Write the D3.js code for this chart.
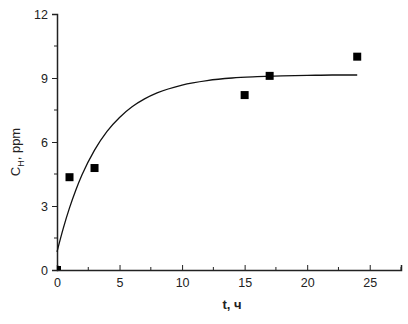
<!DOCTYPE html>
<html>
<head>
<meta charset="utf-8">
<script src="https://cdn.jsdelivr.net/npm/d3@7"></script>
<style>
  body { margin: 0; background: #fff; }
  svg { display: block; font-family: "Liberation Sans", Arial, sans-serif; }
</style>
</head>
<body>
<svg width="408" height="324"></svg>
<script>
// measured points
const timeH = [0, 1, 3, 15, 17, 24];
const concPpm = [0, 4.35, 4.78, 8.2, 9.1, 10];

// fitted curve
const fitT = [0, 0.5, 1, 1.5, 2, 3, 4, 5, 6, 7, 8, 10, 12, 14, 16, 18, 20, 22, 24];
const fitC = [0.85, 1.95, 2.91, 3.74, 4.46, 5.62, 6.5, 7.15, 7.65, 8.02, 8.3, 8.67, 8.88, 9.0, 9.06, 9.1, 9.12, 9.14, 9.14];

const xTicks = [0, 5, 10, 15, 20, 25];
const yTicks = [0, 3, 6, 9, 12];

const svg = d3.select("svg");

const x = d3.scaleLinear().domain([0, 27.5]).range([57, 401]);
const y = d3.scaleLinear().domain([0, 12]).range([270, 14]);

const axisColor = "#222";

// plot area clip (origin point is cut by the axes)
svg.append("clipPath").attr("id", "plot")
  .append("rect")
  .attr("x", x(0)).attr("y", 0)
  .attr("width", 408).attr("height", y(0));

// y axis
const yAxis = svg.append("g")
  .attr("transform", "translate(57,0)")
  .call(d3.axisLeft(y).tickValues(yTicks).tickSize(5).tickPadding(4).tickFormat(d3.format("d")));
// minor y ticks
svg.append("g")
  .selectAll("line")
  .data([1.5, 4.5, 7.5, 10.5])
  .join("line")
  .attr("x1", 54).attr("x2", 57)
  .attr("y1", d => y(d)).attr("y2", d => y(d))
  .attr("stroke", axisColor);

// x axis, ticks inward
const xAxis = svg.append("g")
  .attr("transform", "translate(0,270)")
  .call(d3.axisBottom(x).tickValues(xTicks).tickSize(-5).tickPadding(8).tickFormat(d3.format("d")));
svg.append("g")
  .selectAll("line")
  .data([2.5, 7.5, 12.5, 17.5, 22.5, 27.5])
  .join("line")
  .attr("x1", d => x(d)).attr("x2", d => x(d))
  .attr("y1", 267).attr("y2", 270)
  .attr("stroke", axisColor);

[yAxis, xAxis].forEach(g => {
  g.select(".domain").attr("stroke", axisColor).attr("stroke-width", 1.5);
  g.selectAll(".tick line").attr("stroke", axisColor);
  g.selectAll(".tick text")
    .attr("fill", "#222")
    .style("font-size", "12.5px");
});

// curve
const line = d3.line()
  .x(d => x(d[0]))
  .y(d => y(d[1]))
  .curve(d3.curveMonotoneX);

svg.append("path")
  .datum(fitT.map((t, i) => [t, fitC[i]]))
  .attr("d", line)
  .attr("fill", "none")
  .attr("stroke", "#111")
  .attr("stroke-width", 1.3);

// squares
const s = 8;
svg.append("g")
  .attr("clip-path", "url(#plot)")
  .selectAll("rect")
  .data(timeH.map((t, i) => [t, concPpm[i]]))
  .join("rect")
  .attr("x", d => x(d[0]) - s / 2)
  .attr("y", d => y(d[1]) - s / 2)
  .attr("width", s)
  .attr("height", s)
  .attr("fill", "#000");

// axis titles
svg.append("text")
  .attr("x", 232)
  .attr("y", 309)
  .attr("text-anchor", "middle")
  .style("font-size", "13px")
  .style("font-weight", "bold")
  .attr("fill", "#222")
  .text("t, ч");

const yl = svg.append("text")
  .attr("transform", "translate(20,152) rotate(-90)")
  .attr("text-anchor", "middle")
  .style("font-size", "13px")
  .attr("fill", "#222");
yl.append("tspan").text("C");
yl.append("tspan").attr("dy", 4).style("font-size", "9px").text("H");
yl.append("tspan").attr("dy", -4).text(", ppm");
</script>
</body>
</html>
